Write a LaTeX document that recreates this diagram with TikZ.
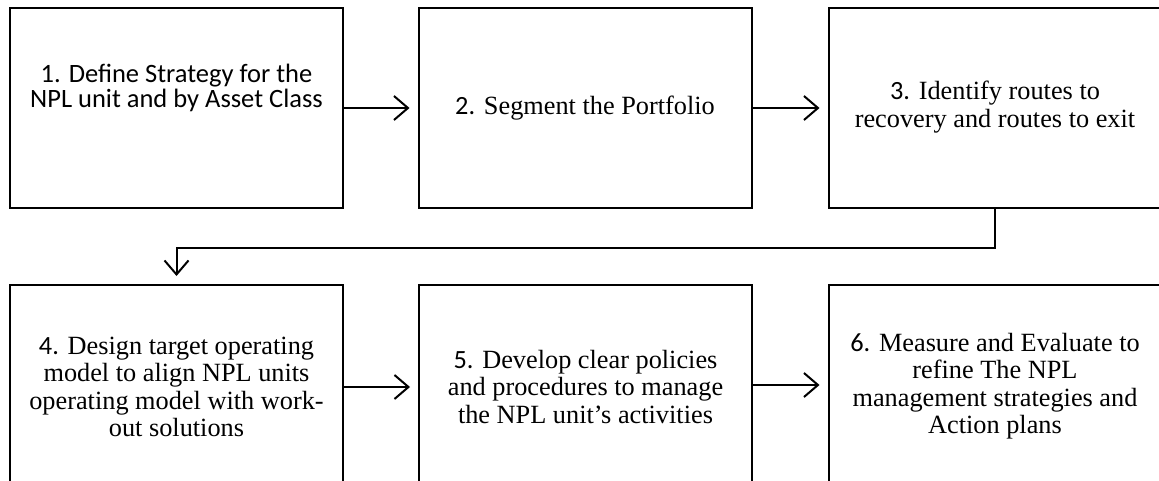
\documentclass[tikz,border=0pt]{standalone}
\usepackage{fontspec}
\setmainfont{Liberation Serif}
\newfontfamily\calfont{Carlito}
\usetikzlibrary{arrows.meta}
\tikzset{
  stepbox/.style={draw, line width=2pt, minimum width=333pt, minimum height=200pt, inner sep=0pt},
  label/.style={align=center, font=\fontsize{26.3}{27.5}\selectfont, inner sep=0pt},
  arr/.style={line width=2pt, -{Straight Barb[length=14pt, width=24pt, line width=2pt]}, shorten >=8pt},
}
\begin{document}
\begin{tikzpicture}[x=1pt, y=-1pt]
\useasboundingbox (0,0) rectangle (1159,481);
\clip (0,0) rectangle (1159,481);
% boxes
\node[stepbox] (b1) at (176.5,108) {};
\node[stepbox] (b2) at (585,108) {};
\node[stepbox] (b3) at (995,108) {};
\node[stepbox] (b4) at (176.5,385) {};
\node[stepbox] (b5) at (585.5,385) {};
\node[stepbox] (b6) at (995,385) {};
% texts
\node[label, font=\calfont\fontsize{26.5}{25}\selectfont] (t1) at (176.5,88) {1. Define Strategy for the\\NPL unit and by Asset Class};
\node[label] (t2) at (585,108) {{\calfont 2.} Segment the Portfolio};
\node[label] (t3) at (995,107) {{\calfont 3.} Identify routes to\\recovery and routes to exit};
\node[label] (t4) at (176.5,387) {{\calfont 4.} Design target operating\\model to align NPL units\\operating model with work-\\out solutions};
\node[label] (t5) at (585.5,387) {{\calfont 5.} Develop clear policies\\and procedures to manage\\the NPL unit’s activities};
\node[label] (t6) at (995,386) {{\calfont 6.} Measure and Evaluate to\\refine The NPL\\management strategies and\\Action plans};
% connectors
\draw[arr] (b1.east) -- (b2.west);
\draw[arr] (b2.east) -- (b3.west);
\draw[arr] (b3.south) -- ++(0,39) coordinate (turn) -| (b4.north);
\draw[arr] ([yshift=-2pt]b4.east) -- ([yshift=-2pt]b5.west);
\draw[arr] (b5.east) -- (b6.west);
\end{tikzpicture}
\end{document}
